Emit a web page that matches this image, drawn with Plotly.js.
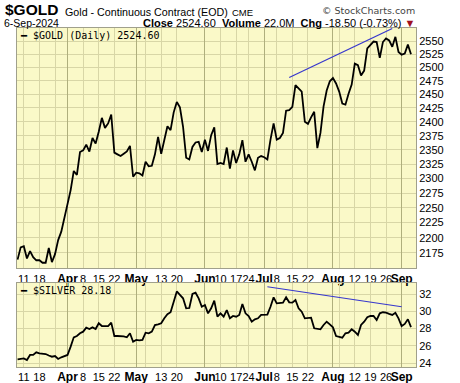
<!DOCTYPE html>
<html><head><meta charset="utf-8">
<script src="https://cdn.plot.ly/plotly-3.0.1.min.js"></script>
<style>html,body{margin:0;padding:0;background:#fff;}#chart{width:460px;height:383px;}</style>
</head><body><div id="chart"></div>
<script>
const dates = [
'2024-03-07','2024-03-08','2024-03-11','2024-03-12','2024-03-13','2024-03-14','2024-03-15','2024-03-18','2024-03-19','2024-03-20',
'2024-03-21','2024-03-22','2024-03-25','2024-03-26','2024-03-27','2024-03-28','2024-04-01','2024-04-02','2024-04-03','2024-04-04',
'2024-04-05','2024-04-08','2024-04-09','2024-04-10','2024-04-11','2024-04-12','2024-04-15','2024-04-16','2024-04-17','2024-04-18',
'2024-04-19','2024-04-22','2024-04-23','2024-04-24','2024-04-25','2024-04-26','2024-04-29','2024-04-30','2024-05-01','2024-05-02',
'2024-05-03','2024-05-06','2024-05-07','2024-05-08','2024-05-09','2024-05-10','2024-05-13','2024-05-14','2024-05-15','2024-05-16',
'2024-05-17','2024-05-20','2024-05-21','2024-05-22','2024-05-23','2024-05-24','2024-05-28','2024-05-29','2024-05-30','2024-05-31',
'2024-06-03','2024-06-04','2024-06-05','2024-06-06','2024-06-07','2024-06-10','2024-06-11','2024-06-12','2024-06-13','2024-06-14',
'2024-06-17','2024-06-18','2024-06-20','2024-06-21','2024-06-24','2024-06-25','2024-06-26','2024-06-27','2024-06-28','2024-07-01',
'2024-07-02','2024-07-03','2024-07-05','2024-07-08','2024-07-09','2024-07-10','2024-07-11','2024-07-12','2024-07-15','2024-07-16',
'2024-07-17','2024-07-18','2024-07-19','2024-07-22','2024-07-23','2024-07-24','2024-07-25','2024-07-26','2024-07-29','2024-07-30',
'2024-07-31','2024-08-01','2024-08-02','2024-08-05','2024-08-06','2024-08-07','2024-08-08','2024-08-09','2024-08-12','2024-08-13',
'2024-08-14','2024-08-15','2024-08-16','2024-08-19','2024-08-20','2024-08-21','2024-08-22','2024-08-23','2024-08-26','2024-08-27',
'2024-08-28','2024-08-29','2024-08-30','2024-09-03','2024-09-04','2024-09-05','2024-09-06'];

const gold = [
2164,2184,2186,2166,2178,2168,2163,2163,2159,2159,
2183,2160,2173,2196,2210,2232,2254,2280,2313,2306,
2346,2349,2359,2347,2371,2361,2382,2407,2389,2397,
2413,2345,2342,2339,2343,2347,2357,2303,2310,2309,
2305,2329,2321,2322,2342,2373,2343,2366,2392,2385,
2417,2436,2426,2391,2336,2333,2355,2363,2364,2346,
2368,2348,2376,2390,2325,2327,2325,2354,2317,2349,
2327,2342,2367,2329,2342,2329,2314,2336,2339,2337,
2333,2368,2397,2368,2371,2380,2420,2421,2427,2467,
2460,2455,2400,2396,2408,2418,2353,2380,2428,2457,
2474,2480,2470,2455,2433,2431,2451,2468,2507,2504,
2485,2494,2536,2542,2549,2548,2518,2548,2555,2551,
2539,2558,2529,2524,2526,2543.1,2524.6];

const silver = [
24.46,24.53,24.57,24.38,24.96,24.96,25.27,25.15,25.10,25.07,
24.90,24.76,24.84,24.50,24.69,24.84,24.96,25.92,27.00,27.15,
27.46,27.65,28.11,27.96,28.15,27.96,28.62,28.30,28.30,28.30,
28.69,27.15,27.15,27.15,27.10,27.00,27.46,26.49,26.69,26.65,
26.69,27.53,27.46,27.65,28.42,28.50,28.62,29.20,29.66,29.89,
31.11,32.30,31.90,31.50,30.35,30.38,32.00,32.15,31.50,30.53,
30.73,29.77,30.35,31.23,29.38,29.77,29.38,30.15,29.20,29.46,
29.38,29.58,30.85,29.77,29.46,28.80,29.08,29.19,29.58,29.58,
29.61,30.53,31.62,30.92,31.00,31.00,31.62,31.04,31.00,31.31,
30.35,29.96,29.19,29.19,29.27,28.04,27.96,27.92,28.42,28.80,
28.50,28.15,27.15,27.07,26.95,27.46,27.53,27.92,27.65,27.27,
28.42,28.80,29.31,29.46,29.46,29.00,29.77,29.89,29.84,29.70,
29.58,29.84,29.19,28.30,28.54,29.08,28.18];

const tickDates = ['2024-03-11','2024-03-18','2024-03-25','2024-04-01','2024-04-08','2024-04-15','2024-04-22','2024-05-01','2024-05-06','2024-05-13','2024-05-20','2024-06-03','2024-06-10','2024-06-17','2024-06-24','2024-07-01','2024-07-08','2024-07-15','2024-07-22','2024-08-01','2024-08-05','2024-08-12','2024-08-19','2024-08-26','2024-09-03'];
const tickLabels = ['11','18','','Apr','8','15','22','May','','13','20','Jun','10','17','24','Jul','8','15','22','Aug','','12','19','26','Sep'];
const monthDates = ['2024-04-01','2024-05-01','2024-06-03','2024-07-01','2024-08-01','2024-09-03'];

const goldTicks = [2175,2200,2225,2250,2275,2300,2325,2350,2375,2400,2425,2450,2475,2500,2525,2550];
const silverTicks = [24,26,28,30,32];

const goldTrendDates = ['2024-07-12','2024-08-28'];
const goldTrendVals = [2481,2574];
const silverTrendDates = ['2024-07-02','2024-09-03'];
const silverTrendVals = [32.84,30.53];

const headerDate = '6-Sep-2024';
const volumeText = '22.0M';

const FONT = 'Liberation Sans, Arial, sans-serif';
const MONO = 'DejaVu Sans Mono, monospace';
const BG = 'rgb(250,249,200)';
const GRID = 'rgb(216,214,166)';
const MONTHGRID = 'rgb(175,175,125)';
const BORDER = 'rgb(160,160,140)';

const W = 460, H = 383, ML = 17, MR = 44, MT = 28, MB = 16;
const PW = W - ML - MR, PH = H - MT - MB;
const px = x => (x - ML) / PW;
const py = y => (H - MB - y) / PH;

const last = gold[gold.length - 1], prev = gold[gold.length - 2];
const chg = last - prev, pct = chg / prev * 100;
const ticktext = tickLabels.map(t => /[A-Za-z]/.test(t) ? '<span style="font-size:12px"><b>' + t + '</b></span>' : t);
const idx = d => dates.indexOf(d);
const xRange = [-0.18, dates.length + 0.6];
const monthIdx = monthDates.map(idx);

const xCommon = {
  type: 'category', categoryorder: 'array', categoryarray: dates,
  range: xRange, tickangle: 0,
  tickmode: 'array', tickvals: tickDates, ticktext: ticktext,
  showgrid: true, gridcolor: GRID, gridwidth: 1, ticks: '',
  tickfont: {family: FONT, size: 11, color: '#000'},
  showline: true, mirror: true, linecolor: BORDER, linewidth: 1,
  zeroline: false, fixedrange: true
};
const xMonth = {
  type: 'linear', range: xRange, tickmode: 'array', tickvals: monthIdx,
  showticklabels: false, showgrid: true, gridcolor: MONTHGRID, gridwidth: 1,
  ticks: '', showline: false, zeroline: false, fixedrange: true
};

const traces = [
  {x: dates, y: gold, xaxis: 'x', yaxis: 'y', mode: 'lines', line: {color: '#000', width: 1.8}, hoverinfo: 'skip'},
  {x: goldTrendDates.map(idx), y: goldTrendVals, xaxis: 'x3', yaxis: 'y', mode: 'lines', line: {color: 'rgb(55,55,205)', width: 1.2}, hoverinfo: 'skip'},
  {x: dates, y: silver, xaxis: 'x2', yaxis: 'y2', mode: 'lines', line: {color: '#000', width: 1.8}, hoverinfo: 'skip'},
  {x: silverTrendDates.map(idx), y: silverTrendVals, xaxis: 'x4', yaxis: 'y2', mode: 'lines', line: {color: 'rgb(55,55,205)', width: 1.2}, hoverinfo: 'skip'}
];

const ann = (text, x, y, opts) => Object.assign({
  text: text, xref: 'paper', yref: 'paper', x: px(x), y: py(y),
  xanchor: 'left', yanchor: 'middle', showarrow: false,
  font: {family: FONT, size: 11, color: '#000'}
}, opts || {});

const annotations = [
  ann('<b>$GOLD</b>', 3, 9.5, {font: {family: FONT, size: 15.5, color: '#000'}}),
  ann('Gold - Continuous Contract (EOD)', 63, 11.5, {font: {family: FONT, size: 10.7, color: '#000'}}),
  ann('CME', 230, 12, {font: {family: FONT, size: 9.5, color: '#000'}}),
  ann('© StockCharts.com', 417, 10.5, {xanchor: 'right', font: {family: 'DejaVu Sans, sans-serif', size: 9.5, color: '#444'}}),
  ann(headerDate, 2, 23, {font: {family: FONT, size: 10.5, color: '#000'}}),
  ann('<b>Close</b> ' + last.toFixed(2) + '  <b>Volume</b> ' + volumeText + '  <b>Chg</b> ' + chg.toFixed(2) + ' (' + pct.toFixed(2) + '%) <span style="color:#a01020">▼</span>',
      417, 23, {xanchor: 'right', font: {family: FONT, size: 11, color: '#000'}}),
  ann('━ $GOLD (Daily) ' + last.toFixed(2), 18, 35.5, {font: {family: MONO, size: 10, color: '#000'}}),
  ann('━ $SILVER ' + silver[silver.length - 1].toFixed(2), 18, 290, {font: {family: MONO, size: 10, color: '#000'}})
];

const layout = {
  width: W, height: H,
  margin: {l: ML, r: MR, t: MT, b: MB, pad: 0},
  paper_bgcolor: '#fff', plot_bgcolor: BG,
  showlegend: false, hovermode: false,
  font: {family: FONT, size: 11, color: '#000'},
  xaxis: Object.assign({}, xCommon, {anchor: 'y'}),
  xaxis2: Object.assign({}, xCommon, {anchor: 'y2', matches: 'x'}),
  xaxis3: Object.assign({}, xMonth, {anchor: 'y', overlaying: 'x'}),
  xaxis4: Object.assign({}, xMonth, {anchor: 'y2', overlaying: 'x2'}),
  yaxis: {
    domain: [py(268.3), 1], type: 'log',
    range: [Math.log10(2150), Math.log10(2575)],
    side: 'right', tickmode: 'array', tickvals: goldTicks, ticktext: goldTicks.map(String),
    showgrid: true, gridcolor: GRID, ticks: '', tickfont: {family: FONT, size: 11, color: '#000'},
    showline: true, mirror: true, linecolor: BORDER, zeroline: false, fixedrange: true
  },
  yaxis2: {
    domain: [0, py(283)], range: [23.57, 33.27],
    side: 'right', tickmode: 'array', tickvals: silverTicks, ticktext: silverTicks.map(String),
    showgrid: true, gridcolor: GRID, ticks: '', tickfont: {family: FONT, size: 11, color: '#000'},
    showline: true, mirror: true, linecolor: BORDER, zeroline: false, fixedrange: true
  },
  annotations: annotations
};

Plotly.newPlot('chart', traces, layout, {staticPlot: true, displayModeBar: false});
</script></body></html>
